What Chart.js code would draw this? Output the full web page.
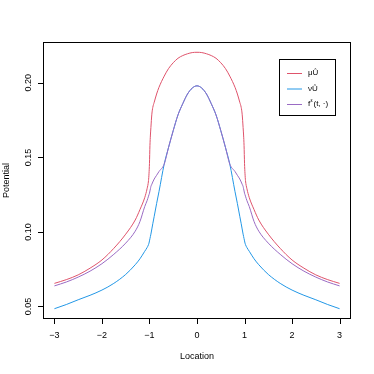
<!DOCTYPE html>
<html>
<head>
<meta charset="utf-8">
<script src="https://cdn.jsdelivr.net/npm/chart.js@4/dist/chart.umd.min.js"></script>
<style>
  html, body { margin: 0; padding: 0; background: #fff; }
  canvas { display: block; }
</style>
</head>
<body>
<canvas id="myChart" width="374" height="374"></canvas>
<script>
// values
let location_ = [-3, -2.75, -2.5, -2.25, -2, -1.75, -1.5, -1.3, -1.2, -1.1, -1.05, -1.02, -1.01, -1, -0.99, -0.98, -0.97, -0.95, -0.93, -0.9, -0.85, -0.8, -0.69, -0.6, -0.5, -0.4, -0.3, -0.2, -0.1,
  0, 0.1, 0.2, 0.3, 0.4, 0.5, 0.6, 0.69, 0.8, 0.85, 0.9, 0.93, 0.95, 0.97, 0.98, 0.99, 1, 1.01, 1.02, 1.05, 1.1, 1.2, 1.3, 1.5, 1.75, 2, 2.25, 2.5, 2.75, 3];

let muU = [0.0655, 0.0680, 0.0712, 0.0757, 0.0812, 0.0890, 0.0985, 0.1080, 0.1150, 0.1230, 0.1290, 0.1345, 0.1390, 0.1460, 0.1580, 0.1650, 0.1700, 0.1790, 0.1835, 0.1870, 0.1925, 0.1970, 0.2045, 0.2095, 0.2135, 0.2165, 0.2183, 0.2195, 0.2203,
  0.2205, 0.2203, 0.2195, 0.2183, 0.2165, 0.2135, 0.2095, 0.2045, 0.1970, 0.1925, 0.1870, 0.1835, 0.1790, 0.1700, 0.1650, 0.1580, 0.1460, 0.1390, 0.1345, 0.1290, 0.1230, 0.1150, 0.1080, 0.0985, 0.0890, 0.0812, 0.0757, 0.0712, 0.0680, 0.0655];

let nuU = [0.0485, 0.0513, 0.0545, 0.0575, 0.0610, 0.0655, 0.0715, 0.0780, 0.0820, 0.0870, 0.0895, 0.0915, 0.0925, 0.0940, 0.0955, 0.0970, 0.0985, 0.1020, 0.1055, 0.1105, 0.1190, 0.1270, 0.1455, 0.1565, 0.1680, 0.1785, 0.1860, 0.1925, 0.1965,
  0.1980, 0.1965, 0.1925, 0.1860, 0.1785, 0.1680, 0.1565, 0.1455, 0.1270, 0.1190, 0.1105, 0.1055, 0.1020, 0.0985, 0.0970, 0.0955, 0.0940, 0.0925, 0.0915, 0.0895, 0.0870, 0.0820, 0.0780, 0.0715, 0.0655, 0.0610, 0.0575, 0.0545, 0.0513, 0.0485];

let fEps = [0.0638, 0.0664, 0.0697, 0.0737, 0.0787, 0.0850, 0.0925, 0.1005, 0.1070, 0.1170, 0.1210, 0.1240, 0.1250, 0.1260, 0.1275, 0.1290, 0.1305, 0.1320, 0.1335, 0.1355, 0.1380, 0.1405, 0.1455, 0.1565, 0.1680, 0.1785, 0.1860, 0.1925, 0.1965,
  0.1980, 0.1965, 0.1925, 0.1860, 0.1785, 0.1680, 0.1565, 0.1455, 0.1405, 0.1380, 0.1355, 0.1335, 0.1320, 0.1305, 0.1290, 0.1275, 0.1260, 0.1250, 0.1240, 0.1210, 0.1170, 0.1070, 0.1005, 0.0925, 0.0850, 0.0787, 0.0737, 0.0697, 0.0664, 0.0638];

let xTicks = [-3, -2, -1, 0, 1, 2, 3];
let yTicks = [0.05, 0.10, 0.15, 0.20];
let yTickLabels = ['0.05', '0.10', '0.15', '0.20'];
let legendLabels = ['\u03bcU\u0302', '\u03bdU\u0302', 'f\u03b5(t, \u00b7)'];
let colorHex = ['#DF536B', '#2297E6', '#9A6BC4'];

let font = '"Liberation Sans", Arial, sans-serif';

function toPoints(vals) {
  return location_.map((x, i) => ({ x: x, y: vals[i] }));
}

// R style box, axes, labels and legend
let rFrame = {
  id: 'rFrame',
  afterDraw(chart) {
    let c = chart.ctx;
    let a = chart.chartArea;
    let xs = chart.scales.x, ys = chart.scales.y;
    c.save();
    c.strokeStyle = '#000';
    c.fillStyle = '#000';
    c.lineWidth = 1;
    c.strokeRect(a.left + 0.5, a.top + 0.5, a.right - a.left - 1, a.bottom - a.top - 1);

    // x axis
    c.font = '9px ' + font;
    c.textAlign = 'center';
    c.textBaseline = 'middle';
    c.beginPath();
    xTicks.forEach(v => {
      let px = Math.round(xs.getPixelForValue(v)) + 0.5;
      c.moveTo(px, a.bottom);
      c.lineTo(px, a.bottom + 5);
    });
    c.stroke();
    xTicks.forEach(v => {
      let px = xs.getPixelForValue(v);
      c.fillText(v < 0 ? '\u2212' + Math.abs(v) : String(v), px, a.bottom + 17);
    });
    c.fillText('Location', (a.left + a.right) / 2, 357);

    // y axis
    c.beginPath();
    yTicks.forEach(v => {
      let py = Math.round(ys.getPixelForValue(v)) + 0.5;
      c.moveTo(a.left, py);
      c.lineTo(a.left - 5, py);
    });
    c.stroke();
    yTicks.forEach((v, i) => {
      let py = ys.getPixelForValue(v);
      c.save();
      c.translate(29, py);
      c.rotate(-Math.PI / 2);
      c.fillText(yTickLabels[i], 0, 0);
      c.restore();
    });
    c.save();
    c.translate(7, (a.top + a.bottom) / 2);
    c.rotate(-Math.PI / 2);
    c.fillText('Potential', 0, 0);
    c.restore();

    // legend
    let lx = 279, ly = 59, lw = 56, lh = 56;
    c.fillStyle = '#fff';
    c.fillRect(lx, ly, lw, lh);
    c.strokeStyle = '#000';
    c.strokeRect(lx + 0.5, ly + 0.5, lw, lh);
    let rows = [73, 88.5, 104];
    c.textAlign = 'left';
    rows.forEach((ry, i) => {
      c.strokeStyle = colorHex[i];
      c.beginPath();
      c.moveTo(287, ry + 0.5);
      c.lineTo(302, ry + 0.5);
      c.stroke();
      c.fillStyle = '#000';
      c.font = '8px ' + font;
      if (i < 2) {
        c.fillText(legendLabels[i], 308, ry);
      } else {
        c.fillText('f', 308, ry);
        c.font = '5px ' + font;
        c.fillText('\u03b5', 310.5, ry - 3);
        c.font = '8px ' + font;
        c.fillText('(t, \u00b7)', 313.5, ry);
      }
    });
    c.restore();
  }
};

let ctx = document.getElementById('myChart').getContext('2d');

let myChart = new Chart(ctx, {
  type: 'scatter',
  data: {
    datasets: [
      { label: legendLabels[0], data: toPoints(muU), borderColor: colorHex[0], order: 3 },
      { label: legendLabels[1], data: toPoints(nuU), borderColor: colorHex[1], order: 2 },
      { label: legendLabels[2], data: toPoints(fEps), borderColor: colorHex[2], order: 1 }
    ]
  },
  options: {
    responsive: false,
    animation: false,
    showLine: true,
    layout: { padding: { left: 43, top: 42, right: 23, bottom: 55 } },
    elements: {
      point: { radius: 0, hoverRadius: 0 },
      line: { borderWidth: 1, cubicInterpolationMode: 'monotone', fill: false }
    },
    scales: {
      x: { type: 'linear', min: -3.24, max: 3.24, display: false },
      y: { type: 'linear', min: 0.0416, max: 0.2274, display: false }
    },
    plugins: {
      legend: { display: false },
      tooltip: { enabled: false }
    }
  },
  plugins: [rFrame]
});
</script>
</body>
</html>
